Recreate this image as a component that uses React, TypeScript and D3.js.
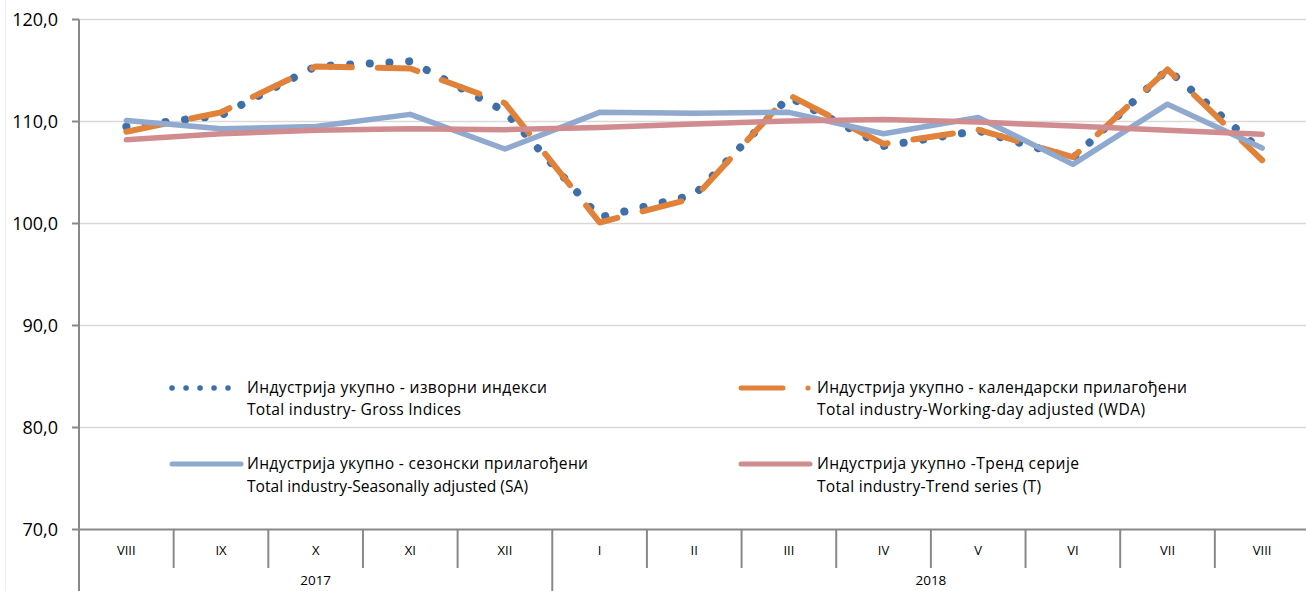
import React from "react";
import * as d3 from "d3";

const MONTHS = ["VIII", "IX", "X", "XI", "XII", "I", "II", "III", "IV", "V", "VI", "VII", "VIII"];
const YEARS = [
  { label: "2017", count: 5 },
  { label: "2018", count: 8 },
];
const Y_TICKS = [70, 80, 90, 100, 110, 120];

// Industrija ukupno - izvorni indeksi / Gross indices
const GROSS = [109.5, 110.6, 115.4, 115.9, 111.0, 100.6, 102.8, 112.4, 107.6, 109.1, 106.4, 115.1, 107.1];
// kalendarski prilagodjeni / WDA
const WDA = [109.0, 110.9, 115.4, 115.2, 111.8, 100.1, 102.5, 112.6, 107.8, 109.2, 106.5, 115.1, 106.2];
// sezonski prilagodjeni / SA
const SA = [110.1, 109.3, 109.5, 110.7, 107.3, 110.9, 110.8, 110.9, 108.8, 110.4, 105.8, 111.7, 107.4];
// trend
const TREND = [108.2, 108.8, 109.15, 109.3, 109.2, 109.4, 109.75, 110.05, 110.2, 109.95, 109.55, 109.15, 108.75];

const W = 1306;
const H = 591;
const FONT = "'Open Sans', sans-serif";
const AXIS = "#898989";
const GRID = "#D9D9D9";

export default function App() {
  const x = d3.scaleBand<number>()
    .domain(MONTHS.map((_, i) => i))
    .range([79, 1309.5])
    .padding(0);
  const y = d3.scaleLinear().domain([70, 120]).range([529.5, 19.5]);
  const bw = x.bandwidth();
  const cx = (i: number) => (x(i) as number) + bw / 2;

  const line = d3.line<number>()
    .x((_, i) => cx(i))
    .y(d => y(d));

  // year groups
  let acc = 0;
  const yearSpans = YEARS.map(yr => {
    const start = acc;
    acc += yr.count;
    return { ...yr, start, end: acc };
  });

  return (
    <svg width={W} height={H} style={{ position: "absolute", left: 0, top: 0, background: "#fff" }}>
      <line x1={5.5} x2={5.5} y1={0} y2={H} stroke="#EFEFEF" strokeWidth={1} />

      {/* grid */}
      {Y_TICKS.filter(t => t > 70).map(t => (
        <line key={t} x1={79} x2={W} y1={y(t)} y2={y(t)} stroke={GRID} strokeWidth={1.3} />
      ))}

      {/* y axis */}
      <line x1={79} x2={79} y1={y(120)} y2={H} stroke={AXIS} strokeWidth={2} />
      {Y_TICKS.map(t => (
        <g key={t}>
          <line x1={72} x2={79} y1={y(t)} y2={y(t)} stroke={AXIS} strokeWidth={2} />
          <text x={58} y={y(t)} dy="0.36em" textAnchor="end" fontFamily={FONT} fontSize={18} fill="#000">
            {d3.format(".1f")(t).replace(".", ",")}
          </text>
        </g>
      ))}

      {/* x axis */}
      <line x1={79} x2={W} y1={y(70)} y2={y(70)} stroke={AXIS} strokeWidth={2} />
      {MONTHS.map((m, i) => (
        <g key={i}>
          {i > 0 && (
            <line x1={x(i)} x2={x(i)} y1={y(70)}
              y2={yearSpans.some(s => s.start === i) ? H : 568}
              stroke={AXIS} strokeWidth={2} />
          )}
          <text x={cx(i)} y={550} dy="0.35em" textAnchor="middle" fontFamily={FONT} fontSize={13} fill="#000">{m}</text>
        </g>
      ))}
      {yearSpans.map(s => (
        <text key={s.label}
          x={((x(s.start) as number) + (x(s.end - 1) as number) + bw) / 2}
          y={580} dy="0.35em" textAnchor="middle" fontFamily={FONT} fontSize={13.5} fill="#000">
          {s.label}
        </text>
      ))}

      {/* series */}
      <path d={line(GROSS) ?? ""} fill="none" stroke="#3F6FA9" strokeWidth={8}
        strokeDasharray="0.1 19.6" strokeLinecap="round" strokeLinejoin="round" />
      <path d={line(WDA) ?? ""} fill="none" stroke="#E0823A" strokeWidth={6}
        strokeDasharray="40 26" strokeLinecap="round" strokeLinejoin="round" />
      <path d={line(SA) ?? ""} fill="none" stroke="#8FA9CF" strokeWidth={5.5}
        strokeLinecap="round" strokeLinejoin="round" />
      <path d={line(TREND) ?? ""} fill="none" stroke="#D08C8E" strokeWidth={5.5}
        strokeLinecap="round" strokeLinejoin="round" />

      {/* legend */}
      <g fontFamily={FONT} fontSize={15.6} fill="#000">
        <line x1={172} x2={228} y1={388} y2={388} stroke="#3F6FA9" strokeWidth={5.5}
          strokeDasharray="0.1 13.9" strokeLinecap="round" />
        <text x={247} y={388} dy="0.35em" textLength={300} lengthAdjust="spacing">Индустрија укупно - изворни индекси</text>
        <text x={247} y={410} dy="0.35em" textLength={214} lengthAdjust="spacing">Total industry- Gross Indices</text>

        <line x1={172} x2={241} y1={464} y2={464} stroke="#8FA9CF" strokeWidth={5} strokeLinecap="round" />
        <text x={247} y={464} dy="0.35em" textLength={341} lengthAdjust="spacing">Индустрија укупно - сезонски прилагођени</text>
        <text x={247} y={487} dy="0.35em" textLength={281} lengthAdjust="spacing">Total industry-Seasonally adjusted (SA)</text>

        <line x1={741} x2={783} y1={388} y2={388} stroke="#E0823A" strokeWidth={5} strokeLinecap="round" />
        <circle cx={808} cy={388} r={2.6} fill="#E0823A" />
        <text x={817} y={388} dy="0.35em" textLength={370} lengthAdjust="spacing">Индустрија укупно - календарски прилагођени</text>
        <text x={817} y={410} dy="0.35em" textLength={328} lengthAdjust="spacing">Total industry-Working-day adjusted (WDA)</text>

        <line x1={741} x2={810} y1={464} y2={464} stroke="#D08C8E" strokeWidth={5} strokeLinecap="round" />
        <text x={817} y={464} dy="0.35em" textLength={262} lengthAdjust="spacing">Индустрија укупно -Тренд серије</text>
        <text x={817} y={487} dy="0.35em" textLength={224} lengthAdjust="spacing">Total industry-Trend series (T)</text>
      </g>
    </svg>
  );
}
